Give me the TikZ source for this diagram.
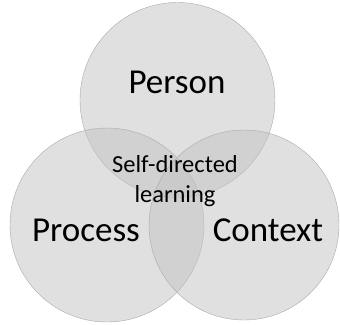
\documentclass[tikz,border=0pt]{standalone}
\usepackage{fontspec}
\setmainfont{Carlito}
\usepackage{xcolor}
\usetikzlibrary{calc}

\definecolor{setgray}{RGB}{196,196,196}
\definecolor{rimgray}{RGB}{170,170,170}

\begin{document}
\begin{tikzpicture}[x = 1pt, y = -1pt]
		\def\setRadius{97};
		\useasboundingbox (0,0) rectangle (340,324);

		\begin{scope}[fill = setgray, fill opacity = 0.53, draw = rimgray, line width = 0.4pt]
			\filldraw (177.5,100) circle (97.5);
			\filldraw (107,225) circle (\setRadius);
			\filldraw (244,225) circle (95);
		\end{scope}

		\begin{scope}[every node/.style = {anchor = base, inner sep = 0pt, text = black}]
			\node [font = \fontsize{35}{38}\selectfont] (person) at (177,93) {Person};
			\node [font = \fontsize{35}{38}\selectfont] (process) at (86,241) {Process};
			\node [font = \fontsize{35}{38}\selectfont] (context) at (268,241) {Context};
			\node [font = \fontsize{24.5}{27}\selectfont] (sdl) at (175,172) {Self-directed};
			\node [font = \fontsize{24.5}{27}\selectfont] (learning) at (175,202) {learning};
		\end{scope}
	\end{tikzpicture}
\end{document}
